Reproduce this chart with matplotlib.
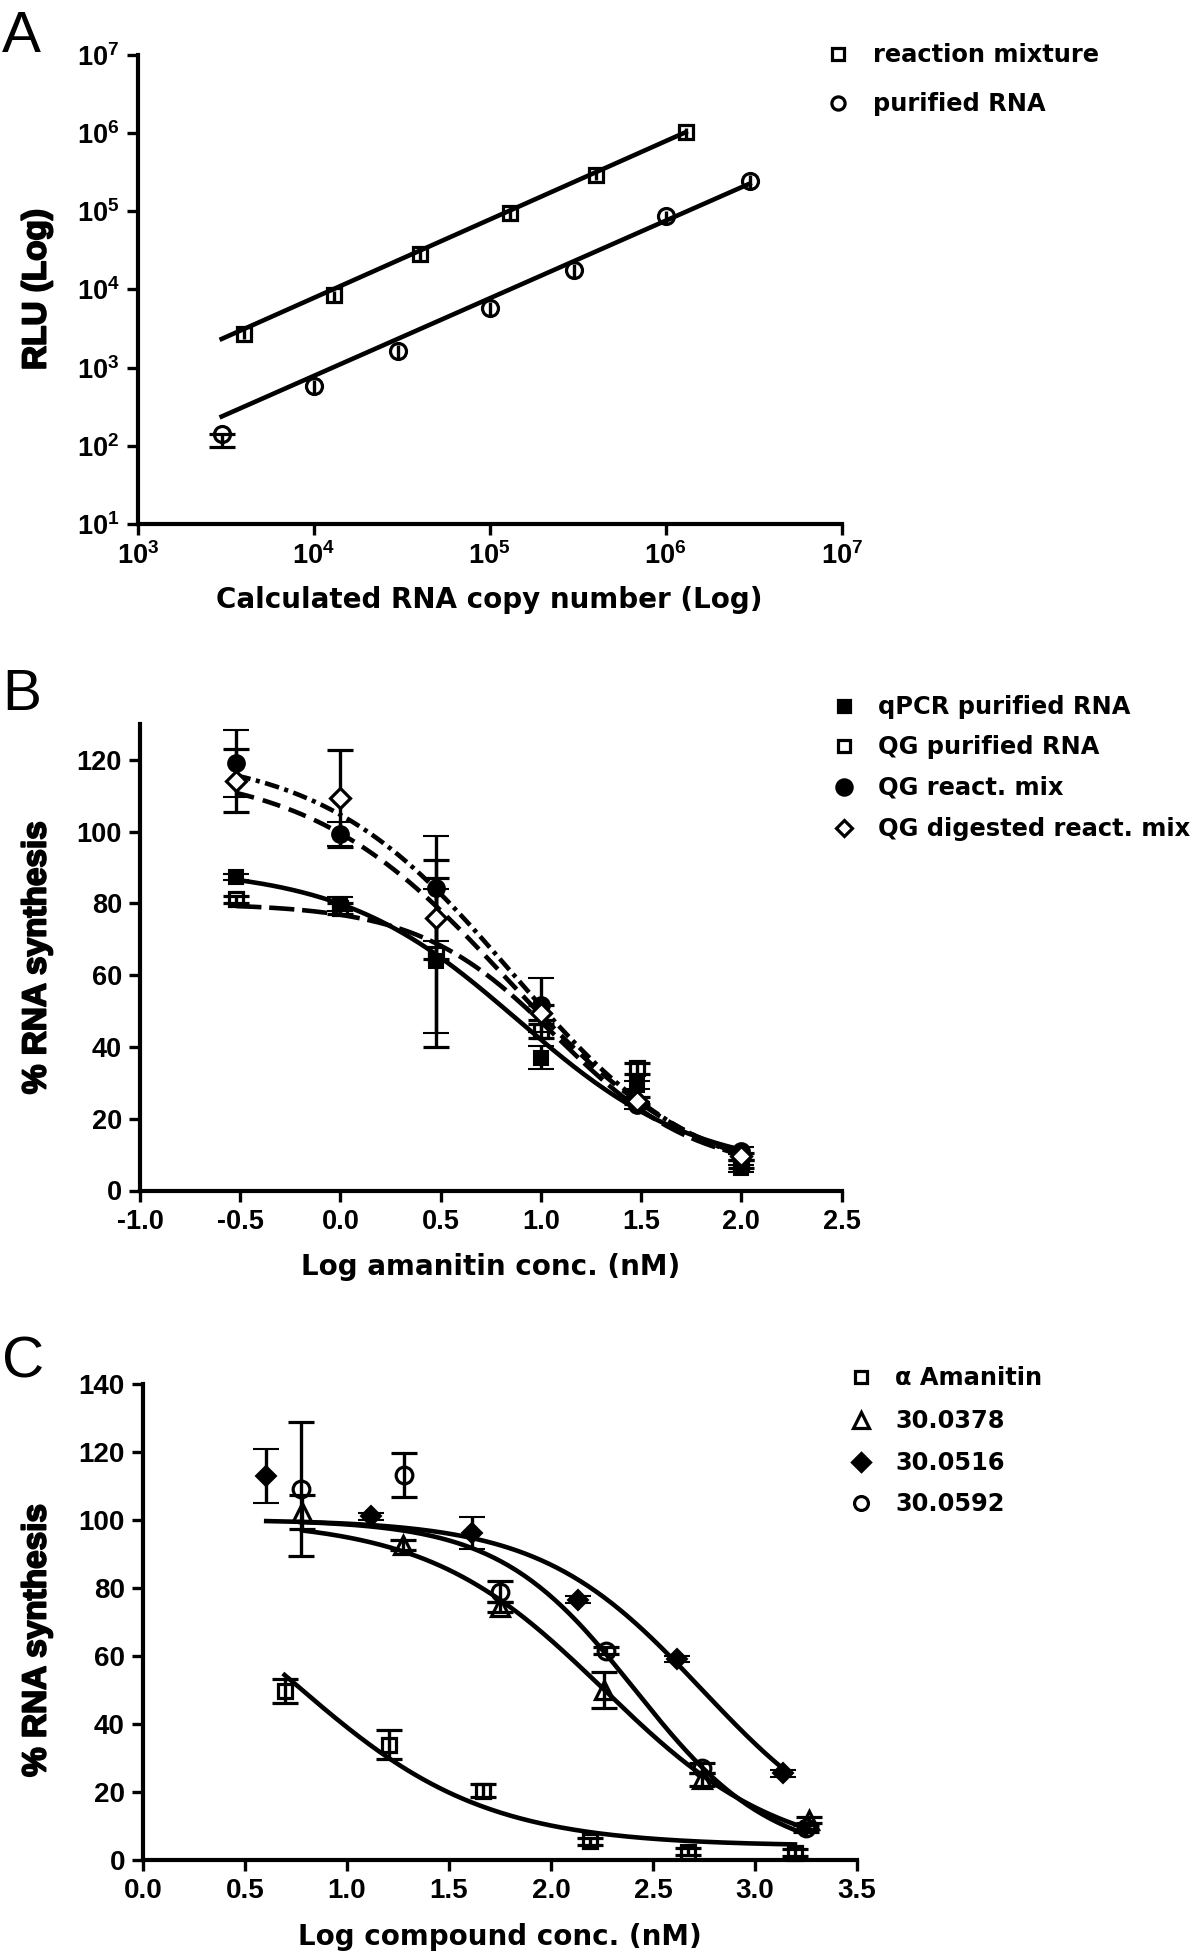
import numpy as np
import matplotlib
matplotlib.use("Agg")
import matplotlib.pyplot as plt
from matplotlib.lines import Line2D
import matplotlib.patheffects as pe

plt.rcParams["mathtext.fontset"] = "custom"
plt.rcParams["mathtext.bf"] = "Liberation Sans:bold"
plt.rcParams["mathtext.rm"] = "Liberation Sans"

# ---------------- Panel A data ----------------
a_rm_x = [4e3, 1.3e4, 4e4, 1.3e5, 4e5, 1.3e6]
a_rm_y = [2730, 8400, 28500, 95000, 295000, 1.02e6]
a_rm_err = [400, 1300, 4500, 15000, 45000, 150000]
a_pr_x = [3e3, 1e4, 3e4, 1e5, 3e5, 1e6, 3e6]
a_pr_y = [141, 585, 1630, 5750, 18000, 86000, 246000]
a_pr_err = [43, 110, 320, 1100, 3500, 16000, 45000]
a_rm_fit = (1.003, -0.12)      # log10(y) = slope*log10(x) + intercept
a_pr_fit = (0.993, -1.078)
a_rm_fit_range = (3e3, 1.3e6)
a_pr_fit_range = (3e3, 3e6)
a_x_exps = [3, 4, 5, 6, 7]
a_y_exps = [1, 2, 3, 4, 5, 6, 7]
a_labels = ["reaction mixture", "purified RNA"]

# ---------------- Panel B data ----------------
b_x = [-0.52, 0.0, 0.477, 1.0, 1.477, 2.0]
b_qpcr_y = [87.3, 79.8, 64.0, 37.0, 29.4, 6.2]
b_qpcr_err = [0.8, 2.0, 20.0, 3.2, 1.0, 1.0]
b_qgp_y = [81.1, 78.6, 66.0, 44.5, 34.1, 7.4]
b_qgp_err = [1.0, 1.5, 26.0, 2.0, 1.5, 1.0]
b_qgr_y = [119.0, 99.3, 84.2, 51.7, 23.8, 11.1]
b_qgr_err = [9.3, 3.4, 14.6, 7.6, 1.0, 1.0]
b_qgd_y = [114.2, 109.3, 75.9, 49.6, 25.0, 9.5]
b_qgd_err = [8.8, 13.5, 11.3, 2.0, 1.0, 1.0]
# 4PL fit parameters: top, bottom, logIC50, hill
b_qpcr_fit = (90, 5, 0.885, 0.98)
b_qgp_fit = (80, 5, 1.084, 1.25)
b_qgr_fit = (122, 0, 0.85, 0.92)
b_qgd_fit = (118, 0, 0.83, 0.88)
b_labels = ["qPCR purified RNA", "QG purified RNA", "QG react. mix", "QG digested react. mix"]
b_xticks = [-1.0, -0.5, 0.0, 0.5, 1.0, 1.5, 2.0, 2.5]
b_yticks = [0, 20, 40, 60, 80, 100, 120]

# ---------------- Panel C data ----------------
c_ama_x = [0.694, 1.204, 1.669, 2.19, 2.673, 3.196]
c_ama_y = [49.7, 33.8, 20.3, 5.4, 2.3, 2.1]
c_ama_err = [3.5, 4.3, 2.0, 1.0, 1.0, 1.0]
c_378_x = [0.78, 1.275, 1.748, 2.262, 2.742, 3.267]
c_378_y = [102.3, 92.5, 74.4, 49.9, 23.6, 11.7]
c_378_err = [5.0, 1.5, 1.5, 5.2, 2.0, 1.0]
c_516_x = [0.604, 1.118, 1.613, 2.134, 2.616, 3.136]
c_516_y = [112.7, 100.9, 96.0, 76.4, 59.0, 25.4]
c_516_err = [7.9, 1.0, 4.8, 1.0, 1.0, 1.0]
c_592_x = [0.773, 1.279, 1.748, 2.27, 2.742, 3.25]
c_592_y = [109.0, 113.1, 78.8, 61.5, 26.9, 9.2]
c_592_err = [19.8, 6.5, 3.0, 1.0, 1.5, 1.0]
c_ama_fit = (100, 4, 0.739, 0.93)
c_378_fit = (100, 0, 2.26, 1.0)
c_516_fit = (100, 0, 2.74, 1.1)
c_592_fit = (100, 0, 2.411, 1.3)
c_labels = ["\u03b1 Amanitin", "30.0378", "30.0516", "30.0592"]
c_xticks = [0.0, 0.5, 1.0, 1.5, 2.0, 2.5, 3.0, 3.5]
c_yticks = [0, 20, 40, 60, 80, 100, 120, 140]

# ---------------- styling ----------------
W, H = 1200, 1955
DPI = 100
TICK_FAMILY = ["Liberation Sans", "DejaVu Sans"]
XLAB_FONT = dict(family=["DejaVu Sans"], weight="bold")
YLAB_FONT = dict(family=["Liberation Sans", "DejaVu Sans"], weight="bold")
LEG_FONT = dict(family=["DejaVu Sans"], weight="bold")
LW = 3.3
SP_LW = 3.0
EW = 2.4
YLAB_FX = [pe.withStroke(linewidth=1.4, foreground="black")]

fig = plt.figure(figsize=(W / DPI, H / DPI), dpi=DPI)


def fx(px):
    return px / W


def fy(py):
    return 1 - py / H


def make_axes(left, top, right, bottom):
    ax = fig.add_axes([fx(left), fy(bottom), fx(right) - fx(left), (bottom - top) / H])
    for s in ["top", "right"]:
        ax.spines[s].set_visible(False)
    for s in ["left", "bottom"]:
        ax.spines[s].set_linewidth(SP_LW)
        ax.spines[s].set_capstyle("projecting")
    ax.tick_params(direction="out", length=8, width=2.4, pad=5)
    return ax


def style_ticks(ax, size):
    for lab in ax.get_xticklabels() + ax.get_yticklabels():
        lab.set_fontfamily(TICK_FAMILY)
        lab.set_fontweight("bold")
        lab.set_fontsize(size)


def four_pl(x, p):
    top, bottom, c, h = p
    return bottom + (top - bottom) / (1 + 10 ** ((x - c) * h))


def legend_entry(xm, ym, xt, marker, face, label, ms):
    fig.add_artist(Line2D([fx(xm)], [fy(ym)], marker=marker, ms=ms, mfc=face,
                          mec="black", mew=2.3, ls="none", transform=fig.transFigure))
    fig.text(fx(xt), fy(ym + 8), label, fontsize=17.4, ha="left", va="baseline", **LEG_FONT)


eb = dict(ecolor="black", elinewidth=EW, capsize=9.5, capthick=2.8, zorder=3, clip_on=False)

# ================= Panel A =================
axA = make_axes(137.7, 55, 841.6, 524)
axA.set_xscale("log")
axA.set_yscale("log")
axA.set_xlim(10 ** a_x_exps[0], 10 ** a_x_exps[-1])
axA.set_ylim(10 ** a_y_exps[0], 10 ** a_y_exps[-1])
axA.set_xticks([10.0 ** e for e in a_x_exps])
axA.set_yticks([10.0 ** e for e in a_y_exps])
axA.minorticks_off()
axA.set_xticklabels([r"$\mathbf{10^{%d}}$" % e for e in a_x_exps])
axA.set_yticklabels([r"$\mathbf{10^{%d}}$" % e for e in a_y_exps])
for lab in axA.get_xticklabels() + axA.get_yticklabels():
    lab.set_fontsize(19.5)

for xr, fit in [(a_rm_fit_range, a_rm_fit), (a_pr_fit_range, a_pr_fit)]:
    xx = np.logspace(np.log10(xr[0]), np.log10(xr[1]), 50)
    axA.plot(xx, 10 ** (fit[0] * np.log10(xx) + fit[1]), color="black", lw=LW, zorder=2)

axA.errorbar(a_rm_x, a_rm_y, yerr=a_rm_err, fmt="s", ms=9.5, mfc="none", mec="black",
             mew=2.3, ecolor="black", elinewidth=EW, capsize=0, zorder=3)
axA.errorbar(a_pr_x[1:], a_pr_y[1:], yerr=a_pr_err[1:], fmt="o", ms=11.5,
             mfc="none", mec="black", mew=2.3, ecolor="black", elinewidth=EW,
             capsize=0, zorder=3)
# first purified point: only the lower error bar is visible, with a cap
axA.errorbar(a_pr_x[:1], a_pr_y[:1], yerr=[a_pr_err[:1], [0]], fmt="o", ms=11.5,
             mfc="none", mec="black", mew=2.3, ecolor="black",
             elinewidth=EW, capsize=9.5, capthick=2.8, zorder=3)

axA.set_xlabel("Calculated RNA copy number (Log)", fontsize=20, **XLAB_FONT)
axA.xaxis.set_label_coords(0.5, -(600 - 524) / (524 - 55))
axA.xaxis.label.set_va("center")
axA.set_ylabel("RLU (Log)", fontsize=24, **YLAB_FONT)
axA.yaxis.set_label_coords((37 - 137.7) / (841.6 - 137.7), 0.5)
axA.yaxis.label.set_va("center")
axA.yaxis.label.set_path_effects(YLAB_FX)

legend_entry(837.5, 53.5, 873, "s", "white", a_labels[0], 8.5)
legend_entry(837.5, 103, 873, "o", "white", a_labels[1], 9.5)

fig.text(fx(2), fy(52), "A", fontsize=42, family="Liberation Sans", ha="left", va="baseline")

# ================= Panel B =================
axB = make_axes(140, 724, 841.6, 1190.5)
axB.set_xlim(-1.0, 2.5)
axB.set_ylim(0, 130)
axB.set_xticks(b_xticks)
axB.set_yticks(b_yticks)
axB.set_xticklabels(["%.1f" % v for v in b_xticks])
axB.set_yticklabels([str(v) for v in b_yticks])
style_ticks(axB, 19.5)

bx = np.linspace(min(b_x), max(b_x), 200)
axB.plot(bx, four_pl(bx, b_qpcr_fit), color="black", lw=LW, ls="-", zorder=2)
axB.plot(bx, four_pl(bx, b_qgp_fit), color="black", lw=LW, dashes=(5.5, 1.7), zorder=2)
axB.plot(bx, four_pl(bx, b_qgr_fit), color="black", lw=LW, dashes=(3.2, 1.2, 0.9, 1.2), zorder=2)
axB.plot(bx, four_pl(bx, b_qgd_fit), color="black", lw=LW, dashes=(4.0, 2.0), zorder=2)

axB.errorbar(b_x, b_qpcr_y, yerr=b_qpcr_err, fmt="s", ms=9.5, mfc="black", mec="black", mew=1.5, **eb)
axB.errorbar(b_x, b_qgp_y, yerr=b_qgp_err, fmt="s", ms=9.5, mfc="none", mec="black", mew=2.3, **eb)
axB.errorbar(b_x, b_qgr_y, yerr=b_qgr_err, fmt="o", ms=12, mfc="black", mec="black", mew=1.5, **eb)
axB.errorbar(b_x, b_qgd_y, yerr=b_qgd_err, fmt="D", ms=10, mfc="white", mec="black", mew=2.3, **eb)

axB.set_xlabel("Log amanitin conc. (nM)", fontsize=20, **XLAB_FONT)
axB.xaxis.set_label_coords(0.5, -(1267 - 1190.5) / (1190.5 - 724))
axB.xaxis.label.set_va("center")
axB.set_ylabel("% RNA synthesis", fontsize=24, **YLAB_FONT)
axB.yaxis.set_label_coords((37 - 140) / (841.6 - 140), 0.5)
axB.yaxis.label.set_va("center")
axB.yaxis.label.set_path_effects(YLAB_FX)

b_markers = [("s", "black", 9), ("s", "white", 9), ("o", "black", 11), ("D", "white", 8.5)]
for (m, f, ms), lab, yy in zip(b_markers, b_labels, [706, 746, 787, 828]):
    legend_entry(844, yy, 878, m, f, lab, ms)

fig.text(fx(2), fy(710), "B", fontsize=42, family="Liberation Sans", ha="left", va="baseline")

# ================= Panel C =================
axC = make_axes(143, 1383.5, 857, 1859.7)
axC.set_xlim(0, 3.5)
axC.set_ylim(0, 140)
axC.set_xticks(c_xticks)
axC.set_yticks(c_yticks)
axC.set_xticklabels(["%.1f" % v for v in c_xticks])
axC.set_yticklabels([str(v) for v in c_yticks])
style_ticks(axC, 20)

for xs, fit in [(c_ama_x, c_ama_fit), (c_378_x, c_378_fit), (c_516_x, c_516_fit), (c_592_x, c_592_fit)]:
    xx = np.linspace(min(xs), max(xs), 200)
    axC.plot(xx, four_pl(xx, fit), color="black", lw=LW, zorder=2)

axC.errorbar(c_ama_x, c_ama_y, yerr=c_ama_err, fmt="s", ms=9.5, mfc="none", mec="black", mew=2.3, **eb)
axC.errorbar(c_378_x, c_378_y, yerr=c_378_err, fmt="^", ms=12.5, mfc="none", mec="black", mew=2.3, **eb)
axC.errorbar(c_516_x, c_516_y, yerr=c_516_err, fmt="D", ms=10, mfc="black", mec="black", mew=1.5, **eb)
axC.errorbar(c_592_x, c_592_y, yerr=c_592_err, fmt="o", ms=12, mfc="none", mec="black", mew=2.3, **eb)

axC.set_xlabel("Log compound conc. (nM)", fontsize=20, **XLAB_FONT)
axC.xaxis.set_label_coords(0.5, -(1937 - 1859.7) / (1859.7 - 1383.5))
axC.xaxis.label.set_va("center")
axC.set_ylabel("% RNA synthesis", fontsize=24, **YLAB_FONT)
axC.yaxis.set_label_coords((37 - 143) / (857 - 143), (1859.7 - 1640) / (1859.7 - 1383.5))
axC.yaxis.label.set_va("center")
axC.yaxis.label.set_path_effects(YLAB_FX)

c_markers = [("s", "white", 9), ("^", "white", 11), ("D", "black", 9), ("o", "white", 10)]
for (m, f, ms), lab, yy in zip(c_markers, c_labels, [1377, 1420, 1462, 1503]):
    legend_entry(861, yy, 895, m, f, lab, ms)

fig.text(fx(2), fy(1378), "C", fontsize=42, family="Liberation Sans", ha="left", va="baseline")

fig.savefig("out.png", dpi=DPI, facecolor="white")
